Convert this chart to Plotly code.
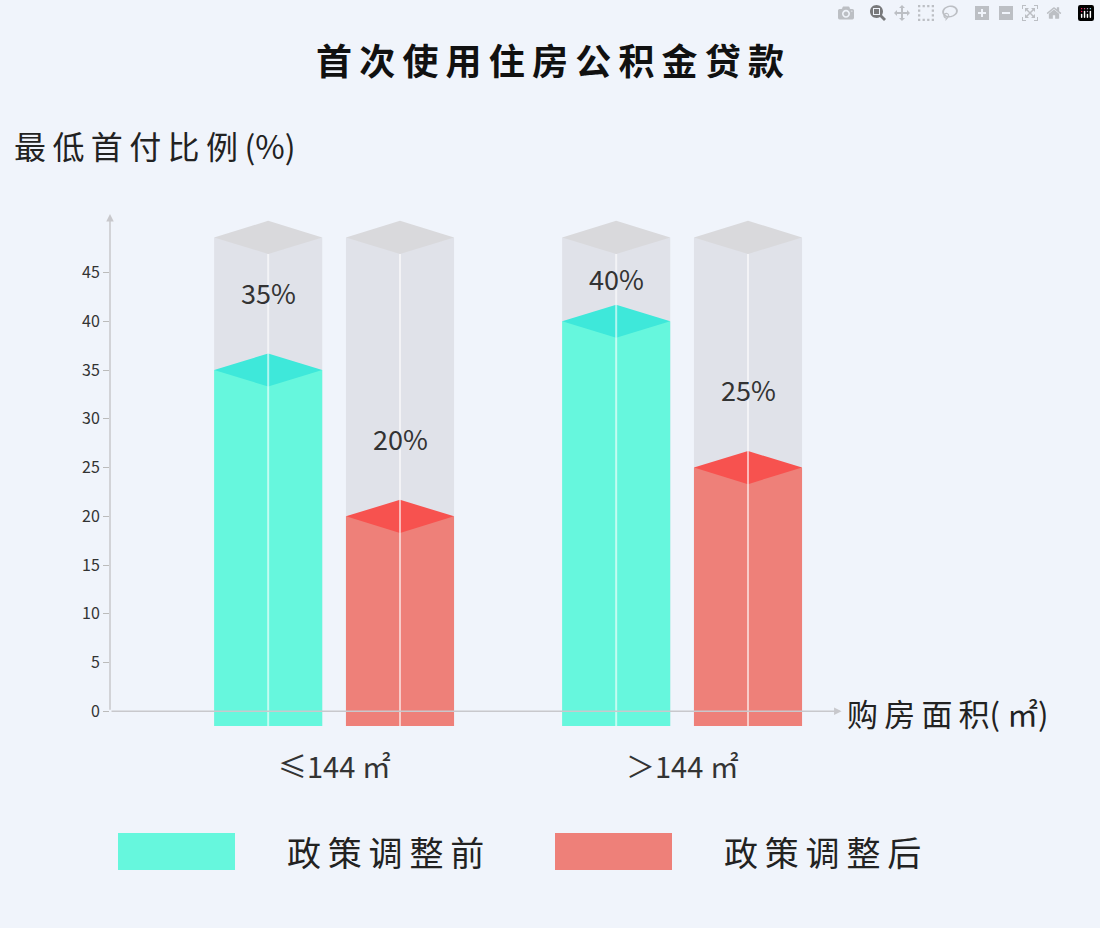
import plotly.graph_objects as go

groups = ["≤144 ㎡", "＞144 ㎡"]
series = ["政策调整前", "政策调整后"]
before = [35, 40]
after = [20, 25]
yticks = [0, 5, 10, 15, 20, 25, 30, 35, 40, 45]

FONT = "Noto Sans CJK SC"
TS = "\u2009"
def spaced(t): return TS.join(t)

body = {"政策调整前": "#66f7dd", "政策调整后": "#ee8079"}
topc = {"政策调整前": "#3ee8da", "政策调整后": "#f7524f"}
group_centers = [1.7, 4.34]
offsets = [-0.5, 0.5]
W = 0.82
BASE = -1.5
BACK_TOP = 48.6
DH = 1.7

fig = go.Figure()
vals = {"政策调整前": before, "政策调整后": after}
for si, s in enumerate(series):
    for gi, g in enumerate(groups):
        xc = group_centers[gi] + offsets[si]
        v = vals[s][gi]
        fig.add_trace(go.Bar(x=[xc], y=[BACK_TOP - BASE], base=[BASE], width=W,
                             marker=dict(color="rgba(205,205,210,0.45)", line=dict(width=0)),
                             showlegend=False, hoverinfo="skip"))
        fig.add_trace(go.Scatter(x=[xc - W/2, xc, xc + W/2, xc, xc - W/2],
                                 y=[BACK_TOP, BACK_TOP + DH, BACK_TOP, BACK_TOP - DH, BACK_TOP],
                                 fill="toself", fillcolor="#d9d9dc", line=dict(width=0),
                                 mode="lines", showlegend=False, hoverinfo="skip"))
        fig.add_trace(go.Bar(x=[xc], y=[v - BASE], base=[BASE], width=W,
                             marker=dict(color=body[s], line=dict(width=0)),
                             showlegend=False, hoverinfo="skip"))
        fig.add_trace(go.Scatter(x=[xc - W/2, xc, xc + W/2, xc, xc - W/2],
                                 y=[v, v + DH, v, v - DH, v],
                                 fill="toself", fillcolor=topc[s], line=dict(width=0),
                                 mode="lines", showlegend=False, hoverinfo="skip"))
        fig.add_trace(go.Scatter(x=[xc, xc], y=[BASE, BACK_TOP - DH], mode="lines",
                                 line=dict(color="rgba(255,255,255,0.6)", width=2),
                                 showlegend=False, hoverinfo="skip"))
        fig.add_annotation(x=xc, y=min(v + 8, 44.4), text=f"{v}%", showarrow=False,
                           yanchor="middle", font=dict(family=FONT, size=27, color="#333"))

for gi, g in enumerate(groups):
    fig.add_annotation(x=group_centers[gi], y=0, yref="y", yshift=-54, text=g, showarrow=False,
                       yanchor="middle", font=dict(family=FONT, size=29, color="#333"))

fig.add_annotation(x=0, y=51, ax=0, ay=0, axref="x", ayref="y", xref="x", yref="y",
                   showarrow=True, arrowhead=2, arrowsize=1, arrowwidth=1.5, arrowcolor="#c8c8cc", text="")
fig.add_annotation(x=5.55, y=0, ax=0, ay=0, axref="x", ayref="y", xref="x", yref="y",
                   showarrow=True, arrowhead=2, arrowsize=1, arrowwidth=1.5, arrowcolor="#c8c8cc", text="")

def px(xp): return (xp - 110) / 725
def py(yp): return (726 - yp) / 513

fig.add_annotation(x=px(845), y=py(712), xref="paper", yref="paper", xanchor="left", yanchor="middle",
                   text=spaced("购房面积") + "( ㎡)",
                   showarrow=False, font=dict(family=FONT, size=31, color="#222"))
fig.add_annotation(x=px(12), y=py(145), xref="paper", yref="paper", xanchor="left", yanchor="middle",
                   text=spaced("最低首付比例") + TS + "(%)",
                   showarrow=False, font=dict(family=FONT, size=32, color="#222"))

for s, (x0, x1, tx) in zip(series, [(118, 235, 285), (555, 672, 722)]):
    fig.add_shape(type="rect", xref="paper", yref="paper", x0=px(x0), x1=px(x1), y0=py(870), y1=py(833),
                  fillcolor=body[s], line=dict(width=0))
    fig.add_annotation(x=px(tx), y=py(852), xref="paper", yref="paper", xanchor="left", yanchor="middle",
                       text=spaced(s), showarrow=False, font=dict(family=FONT, size=34, color="#222"))

fig.update_layout(
    width=1100, height=928,
    margin=dict(l=110, r=265, t=213, b=202),
    paper_bgcolor="#f0f4fb", plot_bgcolor="#f0f4fb",
    barmode="overlay",
    title=dict(text="<b>" + spaced("首次使用住房公积金贷款") + "</b>", x=0.5, xanchor="center",
               y=1 - 62/928, yanchor="middle",
               font=dict(family=FONT, size=36, color="#111")),
    xaxis=dict(range=[0, 5.5], visible=False),
    yaxis=dict(range=[BASE, 51.1], tickvals=yticks, ticks="outside", ticklen=6, tickcolor="#bbb",
               showgrid=False, zeroline=False, showline=False,
               tickfont=dict(family=FONT, size=16, color="#333")),
)
fig.write_html("out.html", post_script="document.body.style.margin='0';")
